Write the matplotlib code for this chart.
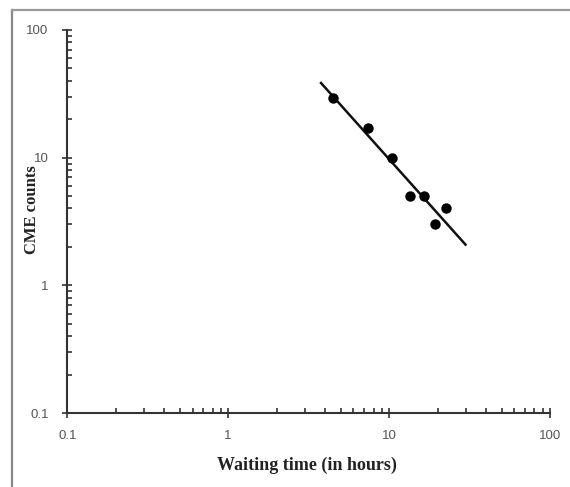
import matplotlib
matplotlib.use("Agg")
import matplotlib.pyplot as plt
from matplotlib.lines import Line2D
import numpy as np

# Data
waiting_time = [4.5, 7.4, 10.4, 13.4, 16.4, 22.5, 19.4]
cme_counts = [29.5, 17.0, 10.0, 5.0, 5.0, 4.06, 3.03]
fit_x = [3.73, 30.2]
fit_y = [39.1, 2.05]
x_ticks = [0.1, 1, 10, 100]
x_tick_labels = ["0.1", "1", "10", "100"]
y_ticks = [0.1, 1, 10, 100]
y_tick_labels = ["0.1", "1", "10", "100"]

W, H = 570, 487
x0, x1, y0, y1 = 67.3, 550, 30, 413

fig = plt.figure(figsize=(W/100, H/100), dpi=100)
ax = fig.add_axes([x0/W, 1-y1/H, (x1-x0)/W, (y1-y0)/H])

ax.plot(fit_x, fit_y, color="#111111", lw=1.8, solid_capstyle="butt")
ax.plot(waiting_time, cme_counts, "o", color="#000000", ms=7.5, mew=0)

ax.set_xscale("log")
ax.set_yscale("log")
ax.set_xlim(0.1, 100)
ax.set_ylim(0.1, 100)
ax.set_xticks(x_ticks)
ax.set_xticklabels(x_tick_labels)
ax.set_yticks(y_ticks)
ax.set_yticklabels(y_tick_labels)

for s in ["top", "right"]:
    ax.spines[s].set_visible(False)
for s in ["left", "bottom"]:
    ax.spines[s].set_color("#333333")
    ax.spines[s].set_linewidth(1.5)

ax.tick_params(which="major", direction="inout", length=7, width=1.2, color="#333333",
               labelsize=9.5, labelcolor="#555555")
ax.tick_params(axis="x", which="major", pad=9)
ax.tick_params(axis="y", which="major", pad=10)
ax.tick_params(which="minor", direction="in", length=3.5, width=1.2, color="#333333")
for lab in ax.get_xticklabels() + ax.get_yticklabels():
    lab.set_family("Liberation Sans")

ax.set_xlabel("Waiting time (in hours)", family="Liberation Serif", fontsize=13,
              fontweight="bold", color="#222222")
ax.xaxis.set_label_coords((307 - x0)/(x1 - x0), (y1 - 465)/(y1 - y0))
ax.xaxis.label.set_va("center")
ax.set_ylabel("CME counts", family="Liberation Serif", fontsize=12,
              fontweight="bold", color="#222222")
ax.yaxis.set_label_coords((31.5 - x0)/(x1 - x0), (y1 - 210)/(y1 - y0))
ax.yaxis.label.set_va("center")

# frame lines of the image (top and left)
fig.add_artist(Line2D([12/W, 12/W], [0, 1-10/H], transform=fig.transFigure,
                      color="#888888", lw=1.6))
fig.add_artist(Line2D([12/W, 1], [1-10/H, 1-10/H], transform=fig.transFigure,
                      color="#999999", lw=1.6))

fig.savefig("out.png", dpi=100)
